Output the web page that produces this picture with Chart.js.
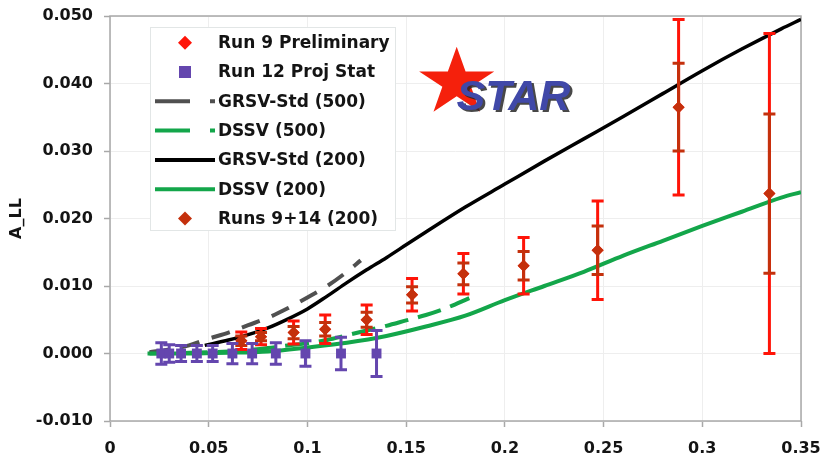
<!DOCTYPE html>
<html>
<head>
<meta charset="utf-8">
<script src="https://cdn.jsdelivr.net/npm/chart.js@4.4.1/dist/chart.umd.min.js"></script>
<style>
  html, body { margin: 0; padding: 0; background: #ffffff; }
  #wrap { width: 821px; height: 463px; }
</style>
</head>
<body>
<div id="wrap"><canvas id="c" width="821" height="463"></canvas></div>
<script>
// ---- Run 12 projected statistical uncertainties (x_T, A_LL, error)
const xRun12 = [0.026, 0.030, 0.036, 0.044, 0.052, 0.062, 0.072, 0.084, 0.099, 0.117, 0.135];
const aRun12 = [0.0000, 0.0000, 0.0000, 0.0000, 0.0000, 0.0000, 0.0000, 0.0000, 0.0000, 0.0000, 0.0000];
const eRun12 = [0.0016, 0.0013, 0.0012, 0.0012, 0.0012, 0.0015, 0.0015, 0.0016, 0.0019, 0.0024, 0.0034];

// ---- Run 9 preliminary and Runs 9+14 combined (200 GeV)
const xRun9   = [0.0665, 0.0765, 0.093, 0.109, 0.130, 0.153, 0.179, 0.2095, 0.247, 0.288, 0.334];
const aRun9   = [0.0019, 0.0025, 0.0031, 0.0036, 0.0050, 0.0087, 0.0118, 0.0130, 0.0153, 0.0365, 0.0237];
const eRun9   = [0.0013, 0.0012, 0.0017, 0.0021, 0.0022, 0.0024, 0.0030, 0.0042, 0.0073, 0.0130, 0.0237];
const xRun914 = [0.0665, 0.0765, 0.093, 0.109, 0.130, 0.153, 0.179, 0.2095, 0.247, 0.288, 0.334];
const aRun914 = [0.0019, 0.0025, 0.0031, 0.0036, 0.0050, 0.0087, 0.0118, 0.0130, 0.0153, 0.0365, 0.0237];
const eRun914 = [0.0007, 0.0006, 0.0009, 0.0010, 0.0011, 0.0012, 0.0016, 0.0021, 0.0036, 0.0065, 0.0118];

// ---- Theory curves
const xGrsv500 = [0.020, 0.030, 0.040, 0.050, 0.060, 0.070, 0.080, 0.090, 0.100, 0.110, 0.120, 0.127];
const yGrsv500 = [0.0002, 0.0006, 0.0012, 0.0022, 0.0031, 0.0042, 0.0053, 0.0067, 0.0083, 0.0100, 0.0121, 0.0138];

const xDssv500 = [0.020, 0.040, 0.060, 0.070, 0.080, 0.090, 0.100, 0.110, 0.120, 0.130, 0.140, 0.150, 0.160, 0.170, 0.182];
const yDssv500 = [0.0000, 0.0001, 0.0003, 0.0005, 0.0008, 0.0012, 0.0015, 0.0020, 0.0027, 0.0034, 0.0041, 0.0049, 0.0057, 0.0067, 0.0082];

const xGrsv200 = [0.048, 0.060, 0.070, 0.080, 0.090, 0.100, 0.110, 0.120, 0.130, 0.140, 0.150, 0.160, 0.180, 0.200, 0.220, 0.240, 0.260, 0.280, 0.300, 0.320, 0.340, 0.350];
const yGrsv200 = [0.0012, 0.0020, 0.0028, 0.0038, 0.0051, 0.0066, 0.0085, 0.0105, 0.0124, 0.0142, 0.0161, 0.0180, 0.0217, 0.0251, 0.0285, 0.0318, 0.0351, 0.0385, 0.0419, 0.0451, 0.0481, 0.0495];

const xDssv200 = [0.019, 0.040, 0.060, 0.080, 0.100, 0.120, 0.140, 0.160, 0.180, 0.200, 0.220, 0.240, 0.260, 0.280, 0.300, 0.320, 0.340, 0.350];
const yDssv200 = [0.0000, 0.0000, 0.0001, 0.0003, 0.0009, 0.0016, 0.0026, 0.0040, 0.0056, 0.0079, 0.0100, 0.0121, 0.0145, 0.0167, 0.0189, 0.0210, 0.0231, 0.0239];

const pts = (xs, ys) => xs.map((x, i) => ({ x: x, y: ys[i] }));

const FONT = "'DejaVu Sans', 'Liberation Sans', sans-serif";
const RED = '#ff1408';
const DARK_RED = '#c4300c';
const PURPLE = '#6446ae';
const GREEN = '#13a64a';
const GREY = '#505050';

// Vertical error bars, drawn just before the markers of their dataset
const errorBars = {
  id: 'errorBars',
  beforeDatasetDraw(chart, args) {
    const ds = chart.data.datasets[args.index];
    if (!ds.errors) return;
    const xs = chart.scales.x, ys = chart.scales.y, ctx = chart.ctx;
    const cap = ds.capWidth;
    ctx.save();
    ctx.strokeStyle = ds.errorColor;
    ctx.lineWidth = ds.errorWidth;
    ctx.lineCap = 'butt';
    ds.data.forEach((p, i) => {
      const e = ds.errors[i];
      const px = xs.getPixelForValue(p.x);
      const top = ys.getPixelForValue(p.y + e);
      const bot = ys.getPixelForValue(p.y - e);
      ctx.beginPath();
      ctx.moveTo(px, top); ctx.lineTo(px, bot);
      ctx.moveTo(px - cap / 2, top); ctx.lineTo(px + cap / 2, top);
      ctx.moveTo(px - cap / 2, bot); ctx.lineTo(px + cap / 2, bot);
      ctx.stroke();
    });
    ctx.restore();
  }
};

// Frame round the plot area
const frame = {
  id: 'frame',
  beforeDatasetsDraw(chart) {
    const a = chart.chartArea, ctx = chart.ctx;
    ctx.save();
    ctx.strokeStyle = '#a8a8a8';
    ctx.lineWidth = 1.5;
    ctx.strokeRect(a.left, a.top, a.right - a.left, a.bottom - a.top);
    ctx.restore();
  }
};

// Boxed legend inside the plot and the STAR logo
const overlay = {
  id: 'overlay',
  afterDatasetsDraw(chart) {
    const ctx = chart.ctx;
    ctx.save();
    // legend box
    ctx.fillStyle = '#ffffff';
    ctx.fillRect(150, 27, 245, 203);
    ctx.strokeStyle = '#e2e6e6';
    ctx.lineWidth = 1;
    ctx.strokeRect(150.5, 27.5, 245, 203);
    const rowY0 = 42.7, rowStep = 29.3, mx = 185, textX = 218;
    chart.data.datasets.forEach((ds, i) => {
      const y = rowY0 + i * rowStep;
      if (ds.legendKind === 'line') {
        ctx.save();
        ctx.strokeStyle = ds.borderColor;
        ctx.lineWidth = 4;
        ctx.setLineDash(ds.borderDash && ds.borderDash.length ? [35, 20] : []);
        ctx.beginPath();
        ctx.moveTo(155, y); ctx.lineTo(215, y);
        ctx.stroke();
        ctx.restore();
      } else {
        ctx.fillStyle = ds.backgroundColor;
        ctx.beginPath();
        if (ds.pointStyle === 'rect') {
          ctx.rect(mx - 6, y - 6, 12, 12);
        } else {
          ctx.moveTo(mx, y - 7); ctx.lineTo(mx + 7, y); ctx.lineTo(mx, y + 7); ctx.lineTo(mx - 7, y);
          ctx.closePath();
        }
        ctx.fill();
      }
      ctx.fillStyle = '#141414';
      ctx.font = 'bold 17px ' + FONT;
      ctx.textBaseline = 'middle';
      ctx.textAlign = 'left';
      ctx.fillText(ds.label, textX, y + 1);
    });

    // STAR logo: red star with italic lettering
    const cx = 456.7, cy = 82.6, R = 35.9, r = R * 0.382, sx = 1.1;
    ctx.fillStyle = '#f5200c';
    ctx.beginPath();
    for (let k = 0; k < 10; k++) {
      const rad = (k % 2 === 0) ? R : r;
      const ang = -Math.PI / 2 + k * Math.PI / 5;
      const px = cx + Math.cos(ang) * rad * sx;
      const py = cy + Math.sin(ang) * rad;
      if (k === 0) ctx.moveTo(px, py); else ctx.lineTo(px, py);
    }
    ctx.closePath();
    ctx.fill();
    ctx.font = 'italic bold 43px "Liberation Sans", Arial, sans-serif';
    ctx.textBaseline = 'alphabetic';
    ctx.textAlign = 'left';
    ctx.fillStyle = 'rgba(40,40,40,0.85)';
    ctx.fillText('STAR', 459, 112);
    ctx.fillStyle = '#4048a8';
    ctx.fillText('STAR', 456.5, 109.5);
    ctx.restore();
  }
};

const datasets = [
  {
    label: 'Run 9 Preliminary', type: 'scatter', legendKind: 'marker',
    data: pts(xRun9, aRun9), errors: eRun9,
    errorColor: RED, errorWidth: 3, capWidth: 12,
    pointStyle: 'rectRot', pointRadius: 6, backgroundColor: RED, borderColor: RED, borderWidth: 0,
    order: 3
  },
  {
    label: 'Run 12 Proj Stat', type: 'scatter', legendKind: 'marker',
    data: pts(xRun12, aRun12), errors: eRun12,
    errorColor: PURPLE, errorWidth: 3, capWidth: 12,
    pointStyle: 'rect', pointRadius: 7, backgroundColor: PURPLE, borderColor: PURPLE, borderWidth: 0,
    order: 1
  },
  {
    label: 'GRSV-Std (500)', type: 'line', legendKind: 'line',
    data: pts(xGrsv500, yGrsv500), borderColor: GREY, borderWidth: 4, borderDash: [19, 13],
    pointRadius: 0, cubicInterpolationMode: 'monotone', fill: false, order: 9
  },
  {
    label: 'DSSV (500)', type: 'line', legendKind: 'line',
    data: pts(xDssv500, yDssv500), borderColor: GREEN, borderWidth: 4, borderDash: [24, 10],
    pointRadius: 0, cubicInterpolationMode: 'monotone', fill: false, order: 8
  },
  {
    label: 'GRSV-Std (200)', type: 'line', legendKind: 'line',
    data: pts(xGrsv200, yGrsv200), borderColor: '#000000', borderWidth: 3.5, borderDash: [],
    pointRadius: 0, cubicInterpolationMode: 'monotone', fill: false, order: 7
  },
  {
    label: 'DSSV (200)', type: 'line', legendKind: 'line',
    data: pts(xDssv200, yDssv200), borderColor: GREEN, borderWidth: 4, borderDash: [],
    pointRadius: 0, cubicInterpolationMode: 'monotone', fill: false, order: 10
  },
  {
    label: 'Runs 9+14 (200)', type: 'scatter', legendKind: 'marker',
    data: pts(xRun914, aRun914), errors: eRun914,
    errorColor: DARK_RED, errorWidth: 3, capWidth: 12,
    pointStyle: 'rectRot', pointRadius: 6, backgroundColor: DARK_RED, borderColor: DARK_RED, borderWidth: 0,
    order: 2
  }
];

new Chart(document.getElementById('c'), {
  type: 'scatter',
  data: { datasets: datasets },
  options: {
    responsive: false,
    devicePixelRatio: 1,
    animation: false,
    layout: { padding: { top: 16, right: 20, left: 0, bottom: 0 } },
    plugins: { legend: { display: false }, tooltip: { enabled: false } },
    elements: { point: { hoverRadius: 6 } },
    scales: {
      x: {
        type: 'linear', min: 0, max: 0.35,
        ticks: {
          stepSize: 0.05, padding: 12, color: '#141414',
          font: { family: FONT, size: 16, weight: 'bold' },
          callback: v => String(Number(v.toFixed(2)))
        },
        grid: { color: '#eeeeee', lineWidth: 1, tickLength: 6, tickColor: '#a8a8a8', tickWidth: 1.5 },
        border: { display: false },
        afterFit: s => { s.height = 42; s.paddingLeft = 0; s.paddingRight = 0; }
      },
      y: {
        type: 'linear', min: -0.01, max: 0.05,
        ticks: {
          stepSize: 0.01, padding: 11, color: '#141414',
          font: { family: FONT, size: 16, weight: 'bold' },
          callback: v => v.toFixed(3)
        },
        grid: { color: '#eeeeee', lineWidth: 1, tickLength: 6, tickColor: '#a8a8a8', tickWidth: 1.5 },
        border: { display: false },
        title: {
          display: true, text: 'A_LL', color: '#141414',
          font: { family: FONT, size: 16, weight: 'bold' },
          padding: { top: 7, bottom: 0 }
        },
        afterFit: s => { s.width = 110; s.paddingTop = 0; s.paddingBottom = 0; }
      }
    }
  },
  plugins: [frame, errorBars, overlay]
});
</script>
</body>
</html>
